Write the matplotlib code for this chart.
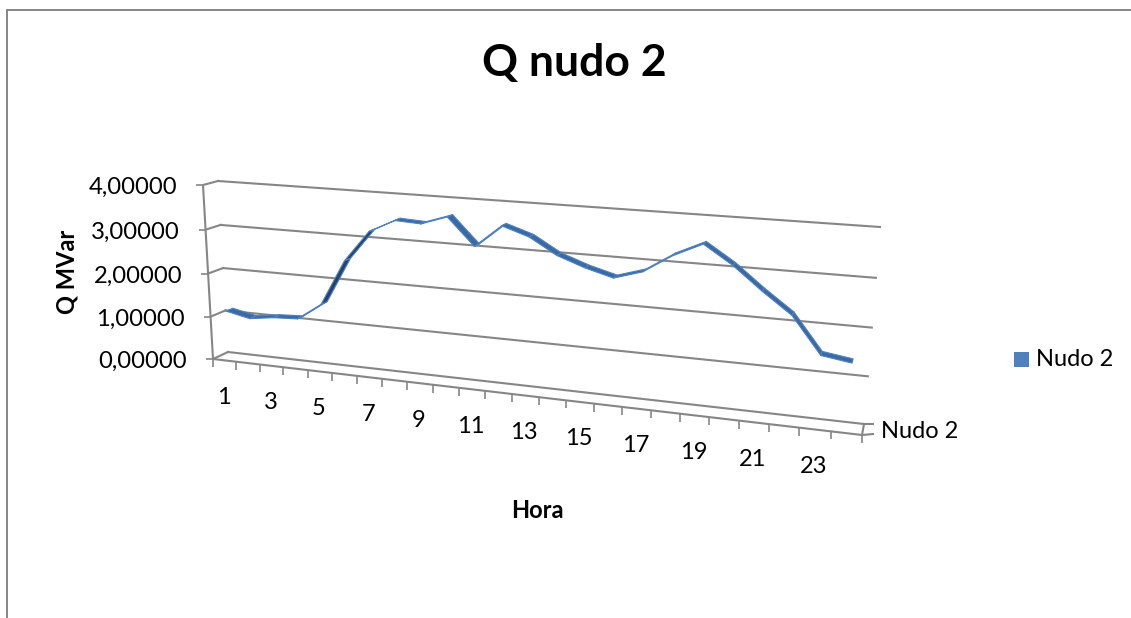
import numpy as np
import matplotlib
matplotlib.use("Agg")
import matplotlib.pyplot as plt
from matplotlib.collections import PolyCollection
from matplotlib.patches import Rectangle
from matplotlib.transforms import Transform, ScaledTranslation

hours = list(range(1, 25))
q_mvar = [1.12, 1.00, 1.08, 1.11, 1.50, 2.53, 3.22, 3.50, 3.47, 3.66, 3.08, 3.56,
          3.37, 3.03, 2.82, 2.66, 2.84, 3.22, 3.50, 3.12, 2.65, 2.22, 1.47, 1.38]
q_ticks = [0, 1, 2, 3, 4]
q_labels = ["0,00000", "1,00000", "2,00000", "3,00000", "4,00000"]
hour_labels = [1, 3, 5, 7, 9, 11, 13, 15, 17, 19, 21, 23]
series_name = "Nudo 2"

# plot box: corners of the front and back planes, in pixels,
# ordered (0, 0), (24, 0), (0, 4), (24, 4) in (hour position, Q)
plane_uv = [(0, 0), (24, 0), (0, 4), (24, 4)]
front_px = [(213, 359), (862, 435), (203, 185), (878, 233)]
back_px = [(228, 352), (864, 424), (218, 181), (880, 227)]


def homography(uv, px):
    rows, rhs = [], []
    for (u, v), (x, y) in zip(uv, px):
        rows.append([u, v, 1, 0, 0, 0, -x * u, -x * v])
        rows.append([0, 0, 0, u, v, 1, -y * u, -y * v])
        rhs += [x, y]
    return np.append(np.linalg.solve(np.array(rows, float), np.array(rhs, float)), 1).reshape(3, 3)


h_front = homography(plane_uv, front_px)
h_back = homography(plane_uv, back_px)


def apply_h(h, values):
    out = np.c_[values, np.ones(len(values))] @ h.T
    return out[:, :2] / out[:, 2:3]


class DepthPlane(Transform):
    # perspective view of the plane at a given depth of the 3D box
    input_dims = 2
    output_dims = 2
    is_affine = False

    def __init__(self, plane_depth):
        super().__init__()
        self.plane_depth = plane_depth

    def transform_non_affine(self, values):
        values = np.asarray(values, float)
        d = self.plane_depth
        return (1 - d) * apply_h(h_front, values) + d * apply_h(h_back, values)


fig = plt.figure(figsize=(11.31, 6.18), dpi=100)
plt.rcParams["font.family"] = ["Lato", "DejaVu Sans"]
ax = fig.add_axes([0, 0, 1, 1])
ax.set_xlim(0, 1131)
ax.set_ylim(618, 0)
ax.axis("off")

grey = "#868686"
front = DepthPlane(0) + ax.transData
back = DepthPlane(1) + ax.transData

# page frame
ax.plot([7, 7, 1131], [618, 10, 10], color=grey, lw=1.4, solid_joinstyle="miter")

# wall gridlines
for q in q_ticks:
    ax.plot([0, 24], [q, q], color=grey, lw=1.5, transform=back)
    a = DepthPlane(0).transform([[0, q]])[0]
    b = DepthPlane(1).transform([[0, q]])[0]
    ax.plot([a[0], b[0]], [a[1], b[1]], color=grey, lw=1.5)

# floor and axes
ax.plot([0, 24], [0, 0], color=grey, lw=1.5, transform=front)
ax.plot([0, 0], [0, 4], color=grey, lw=1.5, transform=front)
ax.plot(np.zeros(5), q_ticks, ls="", marker=0, ms=5, mew=1.2, color=grey, transform=front)
ax.plot(np.arange(25), np.zeros(25), ls="", marker=3, ms=5.5, mew=1.2, color=grey, transform=front)
a = DepthPlane(0).transform([[24, 0]])[0]
b = DepthPlane(1).transform([[24, 0]])[0]
ax.plot([a[0], b[0]], [a[1], b[1]], color=grey, lw=1.5)
ax.plot([a[0], a[0] + 11], [a[1], a[1] - 1], color=grey, lw=1.5)
ax.plot([b[0], b[0] + 9], [b[1], b[1]], color=grey, lw=1.5)

# ribbon of the series, one shaded facet per hour
u = np.array(hours) - 0.5
line_xy = np.c_[u, q_mvar]
near = DepthPlane(0.27).transform(line_xy)
far = DepthPlane(0.73).transform(line_xy)
facets, shades = [], []
for i in range(len(hours) - 1):
    facets.append([near[i], near[i + 1], far[i + 1], far[i]])
    along = near[i + 1] - near[i]
    across = far[i] - near[i]
    under = along[0] * across[1] - along[1] * across[0] > 0
    shades.append("#24436F" if under else "#3A6AA5")
ax.add_collection(PolyCollection(facets, facecolors=shades, edgecolors="#4F81BD",
                                 linewidths=0.8, zorder=3))

# axis text
for q, lab in zip(q_ticks, q_labels):
    ax.text(0, q, lab, ha="right", va="center", fontsize=17.2, color="black",
            transform=front + ScaledTranslation(-26 / 100, -2.5 / 100, fig.dpi_scale_trans))

for h in hour_labels:
    ax.text(h - 0.5, 0, str(h), ha="center", va="center", fontsize=17, color="black",
            transform=front + ScaledTranslation(-1 / 100, -37 / 100, fig.dpi_scale_trans))

ax.text(920, 431.5, series_name, ha="center", va="center", fontsize=17, color="black")
ax.text(574, 63, "Q nudo 2", ha="center", va="center", fontsize=32, fontweight="bold", color="black")
ax.text(537, 510, "Hora", ha="center", va="center", fontsize=17, fontweight="bold", color="black")
ax.text(67, 272, "Q MVar", ha="center", va="center", rotation=90, fontsize=17,
        fontweight="bold", color="black")

# legend
ax.add_patch(Rectangle((1014, 352), 15, 15, facecolor="#4F81BD", edgecolor="none"))
ax.text(1036, 360, series_name, ha="left", va="center", fontsize=17, color="black")

fig.savefig("out.png", dpi=100)
plt.close(fig)
